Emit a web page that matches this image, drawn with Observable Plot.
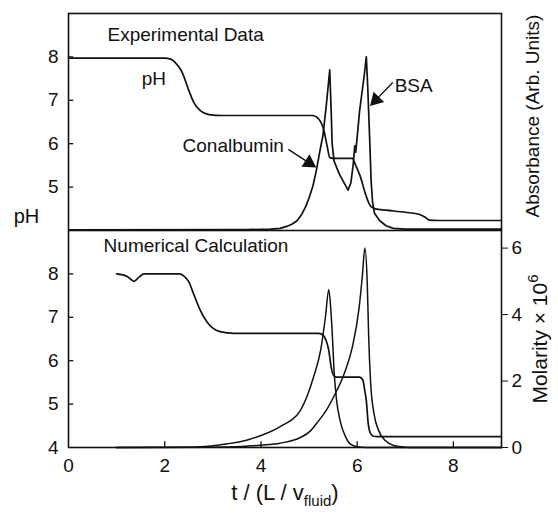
<!DOCTYPE html>
<html>
<head>
<meta charset="utf-8">
<script src="https://cdn.jsdelivr.net/npm/d3@7"></script>
<script src="https://cdn.jsdelivr.net/npm/@observablehq/plot@0.6"></script>
<style>
  html, body { margin: 0; padding: 0; background: #fff; }
  #chart svg { display: block; }
</style>
</head>
<body>
<div id="chart"></div>
<script>
// ---- Experimental data: t/(L/v) vs pH and absorbance (arbitrary units, 0–10 over the panel)
const expPh = [[0,7.97],[2.0,7.97],[2.12,7.95],[2.22,7.87],[2.36,7.65],[2.5,7.23],[2.6,6.96],[2.74,6.76],[2.92,6.67],[3.2,6.65],[5.07,6.65],[5.2,6.57],[5.31,6.3],[5.38,5.92],[5.43,5.68],[5.52,5.66],[5.9,5.66],[5.97,5.5],[6.07,5.23],[6.17,4.85],[6.28,4.56],[6.38,4.5],[6.6,4.47],[7.0,4.42],[7.3,4.37],[7.42,4.3],[7.5,4.24],[7.7,4.23],[9,4.23]];
const expAbs = [[0,0.03],[3.7,0.04],[4.2,0.06],[4.4,0.1],[4.55,0.2],[4.65,0.3],[4.75,0.45],[4.85,0.75],[4.93,1.1],[5.0,1.5],[5.08,2.05],[5.15,2.75],[5.22,3.6],[5.29,4.4],[5.36,5.8],[5.43,7.4],[5.46,5.5],[5.48,4.0],[5.52,3.2],[5.63,2.6],[5.74,2.15],[5.81,1.86],[5.87,2.2],[5.92,3.1],[5.95,3.9],[5.97,3.6],[6.0,4.3],[6.05,5.5],[6.15,7.2],[6.19,8.0],[6.22,6.6],[6.26,4.2],[6.29,2.3],[6.32,1.3],[6.36,0.8],[6.47,0.45],[6.6,0.22],[6.75,0.1],[7.0,0.06],[9,0.06]];

// ---- Numerical calculation: pH and molarity × 10^6 of each protein
const calcPh = [[1.0,8.0],[1.22,7.94],[1.36,7.83],[1.46,7.92],[1.57,8.0],[2.3,8.0],[2.4,7.95],[2.5,7.82],[2.6,7.54],[2.74,7.16],[2.88,6.89],[3.0,6.75],[3.15,6.67],[3.44,6.63],[5.2,6.63],[5.3,6.58],[5.36,6.45],[5.41,6.24],[5.46,5.85],[5.5,5.68],[5.56,5.62],[6.05,5.62],[6.12,5.55],[6.16,5.3],[6.19,5.08],[6.23,4.55],[6.28,4.32],[6.34,4.26],[6.42,4.25],[9,4.25]];
const calcConalbumin = [[1,0],[2.6,0.01],[3.3,0.11],[3.7,0.22],[4.0,0.36],[4.4,0.63],[4.82,1.12],[4.96,1.55],[5.1,2.15],[5.24,2.92],[5.34,3.92],[5.41,4.75],[5.45,4.2],[5.48,3.5],[5.52,2.3],[5.57,1.45],[5.65,0.78],[5.76,0.32],[5.86,0.1],[6.0,0.02],[6.2,0],[9,0]];
const calcBSA = [[1,0],[3.0,0.01],[3.6,0.03],[4.0,0.07],[4.4,0.13],[4.82,0.3],[5.03,0.5],[5.17,0.75],[5.35,1.1],[5.52,1.55],[5.73,2.22],[5.9,3.02],[6.04,4.2],[6.11,5.2],[6.16,6.0],[6.21,4.93],[6.24,3.3],[6.28,1.95],[6.35,1.02],[6.45,0.5],[6.59,0.2],[6.76,0.06],[7.0,0.01],[7.2,0],[9,0]];

// ---- Ticks
const xTicks = [0, 2, 4, 6, 8];
const expPhTicks = [5, 6, 7, 8];
const calcPhTicks = [4, 5, 6, 7, 8];
const molTicks = [0, 2, 4, 6];

// ---- Annotations (t, pH position)
const expLabels = [
  {text: "Experimental Data", t: 0.81, y: 8.5},
  {text: "pH", t: 1.52, y: 7.5},
  {text: "Conalbumin", t: 2.37, y: 5.96},
  {text: "BSA", t: 6.78, y: 7.34}
];
const arrows = [
  {t1: 4.57, y1: 5.87, t2: 5.0, y2: 5.56, angle: 122.6},
  {t1: 6.74, y1: 7.41, t2: 6.39, y2: 7.01, angle: -136.4}
];
const calcLabels = [{text: "Numerical Calculation", t: 0.73, y: 8.64}];

const xLabel = "t / (L / vfluid)";
const absLabel = "Absorbance (Arb. Units)";
const molLabel = "Molarity × 106";

// secondary quantities drawn on the shared pH scale [4, 9]
const phDomain = [4, 9];
const absK = 0.5;            // 10 absorbance units span the panel
const molTop = 6.53;
const molK = 5 / molTop;     // molarity × 10^6 to pH-axis units
const absToY = a => 4 + a * absK;
const molToY = m => 4 + m * molK;

const font = "'Liberation Sans', Arial, Helvetica, sans-serif";
const ink = "#111";
const common = {
  width: 558,
  marginLeft: 68,
  marginRight: 57,
  x: {domain: [0, 9]},
  y: {domain: phDomain},
  style: {fontFamily: font, fontSize: "19px", color: ink, background: "white"}
};

const topPlot = Plot.plot({
  ...common,
  height: 230,
  marginTop: 13,
  marginBottom: 0,
  x: {domain: [0, 9], axis: null},
  marks: [
    Plot.frame({stroke: ink, strokeWidth: 1.6}),
    Plot.axisY(expPhTicks, {anchor: "left", tickSize: 0, tickPadding: 10, label: null, fontSize: 19}),
    Plot.ruleY(expPhTicks, {y: d => d, x1: () => 0, x2: () => 0.11, stroke: ink, strokeWidth: 1.3}),
    Plot.line(expPh, {x: d => d[0], y: d => d[1], curve: "monotone-x", stroke: ink, strokeWidth: 1.7}),
    Plot.line(expAbs, {x: d => d[0], y: d => absToY(d[1]), curve: "linear", stroke: ink, strokeWidth: 1.7}),
    Plot.text(expLabels, {x: "t", y: "y", text: "text", textAnchor: "start", fontSize: 19, fill: ink}),
    Plot.link(arrows, {x1: "t1", y1: "y1", x2: "t2", y2: "y2", stroke: ink, strokeWidth: 1.4}),
    Plot.dot(arrows, {x: "t2", y: "y2", symbol: "triangle", r: 5.5, fill: ink, stroke: "none", rotate: "angle"}),
    Plot.text(["pH"], {text: d => d, frameAnchor: "bottom-left", dx: -42, dy: -8, textAnchor: "middle", fontSize: 20, fill: ink}),
    Plot.text([absLabel], {text: d => d, frameAnchor: "right", textAnchor: "middle", rotate: -90, dx: 31, dy: -6, fontSize: 19, fill: ink})
  ]
});

const bottomPlot = Plot.plot({
  ...common,
  height: 288,
  marginTop: 0,
  marginBottom: 71,
  marks: [
    Plot.frame({stroke: ink, strokeWidth: 1.6}),
    Plot.axisY(calcPhTicks, {anchor: "left", tickSize: 0, tickPadding: 10, label: null, fontSize: 19}),
    Plot.ruleY(calcPhTicks.filter(d => d > 4), {y: d => d, x1: () => 0, x2: () => 0.11, stroke: ink, strokeWidth: 1.3}),
    Plot.axisY(molTicks.map(molToY), {anchor: "right", tickSize: 6, tickPadding: 4, label: null, fontSize: 19,
      tickFormat: v => String(Math.round((v - 4) / molK)), stroke: ink}),
    Plot.axisX(xTicks, {anchor: "bottom", tickSize: 0, tickPadding: 11, label: null, fontSize: 19}),
    Plot.ruleX(xTicks.filter(d => d > 0), {x: d => d, y1: () => 4, y2: () => 4.13, stroke: ink, strokeWidth: 1.3}),
    Plot.line(calcPh, {x: d => d[0], y: d => d[1], curve: "monotone-x", stroke: ink, strokeWidth: 1.7}),
    Plot.line(calcConalbumin, {x: d => d[0], y: d => molToY(d[1]), curve: "monotone-x", stroke: ink, strokeWidth: 1.5}),
    Plot.line(calcBSA, {x: d => d[0], y: d => molToY(d[1]), curve: "monotone-x", stroke: ink, strokeWidth: 1.5}),
    Plot.text(calcLabels, {x: "t", y: "y", text: "text", textAnchor: "start", fontSize: 19, fill: ink}),
    Plot.text([xLabel], {text: d => d, frameAnchor: "bottom", textAnchor: "middle", dy: 52, fontSize: 22, fill: ink}),
    Plot.text([molLabel], {text: d => d, frameAnchor: "right", textAnchor: "middle", rotate: -90, dx: 39, dy: 0, fontSize: 21, fill: ink})
  ]
});

// subscript / superscript in the axis titles
function richText(svg, plain, parts) {
  d3.select(svg).selectAll("text")
    .filter(function () { return this.textContent === plain; })
    .each(function () {
      const t = d3.select(this);
      t.text("");
      for (const p of parts) {
        const s = t.append("tspan").text(p.text);
        if (p.dy) s.attr("dy", p.dy);
        if (p.size) s.attr("font-size", p.size);
      }
    });
}
richText(bottomPlot, xLabel, [
  {text: "t / (L / v"},
  {text: "fluid", dy: 6, size: 15},
  {text: ")", dy: -6}
]);
richText(bottomPlot, molLabel, [
  {text: "Molarity × 10"},
  {text: "6", dy: -9, size: 15}
]);

const chart = document.getElementById("chart");
chart.append(topPlot, bottomPlot);
</script>
</body>
</html>
